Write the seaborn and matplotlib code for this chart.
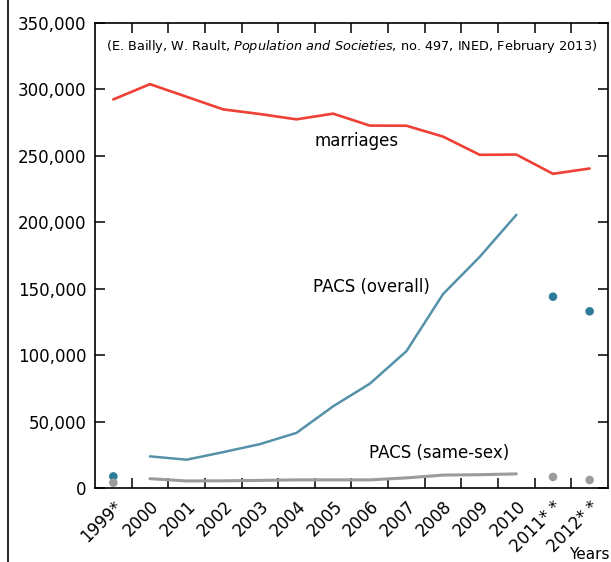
import numpy as np
import pandas as pd
import seaborn as sns
import matplotlib.pyplot as plt
from matplotlib.lines import Line2D
from matplotlib.ticker import FuncFormatter, FixedLocator

# 数据
YEARS = ['1999*', '2000', '2001', '2002', '2003', '2004', '2005', '2006',
         '2007', '2008', '2009', '2010', '2011* *', '2012* *']
MARRIAGES = [292500, 304000, 294500, 285000, 281500, 277500, 281800, 272800,
             272700, 264500, 250800, 251000, 236500, 240500]
PACS_ALL = [8700, 23800, 21300, 27000, 33000, 41500, 61500, 78500,
            103000, 146000, 174000, 205600, 144000, 133000]
PACS_SAME = [4000, 7000, 5300, 5400, 5700, 6100, 6100, 6100,
             7600, 9700, 10000, 10600, 8300, 6000]

RED = '#ee4035'
BLUE = '#5592a9'
BLUE_DOT = '#2c7b98'
GREY = '#9b9b9b'

sns.set_theme(style='ticks')
plt.rcParams['font.family'] = ['DejaVu Sans']
plt.rcParams['text.color'] = 'black'
plt.rcParams['xtick.color'] = 'black'
plt.rcParams['ytick.color'] = 'black'

x = np.arange(len(YEARS))
df = pd.DataFrame({'x': x, 'marriages': MARRIAGES,
                   'pacs_all': PACS_ALL, 'pacs_same': PACS_SAME})
line_part = df.iloc[1:12]          # 2000-2010 画成线
dot_part = df.iloc[[0, 12, 13]]    # 1999, 2011, 2012 只画点

fig = plt.figure(figsize=(6.11, 5.62), dpi=100)
ax = fig.add_axes([0.1555, 0.1317, 0.8395, 0.8273])

sns.lineplot(data=df, x='x', y='marriages', color=RED, lw=1.9, ax=ax)
sns.lineplot(data=line_part, x='x', y='pacs_all', color=BLUE, lw=1.8, ax=ax)
sns.lineplot(data=line_part, x='x', y='pacs_same', color=GREY, lw=2.2, ax=ax)
sns.scatterplot(data=dot_part, x='x', y='pacs_all', color=BLUE_DOT, s=38,
                edgecolor='none', ax=ax, zorder=3)
sns.scatterplot(data=dot_part, x='x', y='pacs_same', color=GREY, s=38,
                edgecolor='none', ax=ax, zorder=3)

ax.set_xlim(-0.5, len(YEARS) - 0.5)
ax.set_ylim(0, 350000)
ax.set_xlabel('')
ax.set_ylabel('')

# x：标签在中心，刻度在边界
ax.set_xticks(x)
ax.set_xticklabels(YEARS, rotation=45, ha='right', rotation_mode='anchor',
                   fontsize=12)
ax.xaxis.set_minor_locator(FixedLocator(np.arange(0.5, len(YEARS) - 1, 1)))
ax.tick_params(axis='x', which='major', length=0, pad=7)
ax.tick_params(axis='x', which='minor', direction='in', length=7, width=1.1,
               top=True, bottom=True, color='black')

ax.set_yticks(np.arange(0, 350001, 50000))
ax.yaxis.set_major_formatter(FuncFormatter(lambda v, p: f'{int(v):,}'))
ax.tick_params(axis='y', direction='in', length=7, width=1.1, left=True,
               right=True, labelsize=12, color='black', pad=6)

for s in ax.spines.values():
    s.set_visible(True)
    s.set_linewidth(1.2)
    s.set_color('black')

ax.text(6.65, 261000, 'marriages', fontsize=12, ha='center', va='center')
ax.text(7.05, 151000, 'PACS (overall)', fontsize=12, ha='center', va='center')
ax.text(8.9, 26500, 'PACS (same-sex)', fontsize=12, ha='center', va='center')
ax.text(0.5, 0.95, '(E. Bailly, W. Rault, $\\it{Population\\ and\\ Societies}$, '
        'no. 497, INED, February 2013)', transform=ax.transAxes,
        fontsize=9.3, ha='center', va='center')

fig.text(0.997, 0.027, 'Years', fontsize=11, ha='right', va='top')
fig.add_artist(Line2D([0.013, 0.013], [0, 1], transform=fig.transFigure,
                      color='black', lw=1.2))

fig.savefig('out.png', dpi=100)
